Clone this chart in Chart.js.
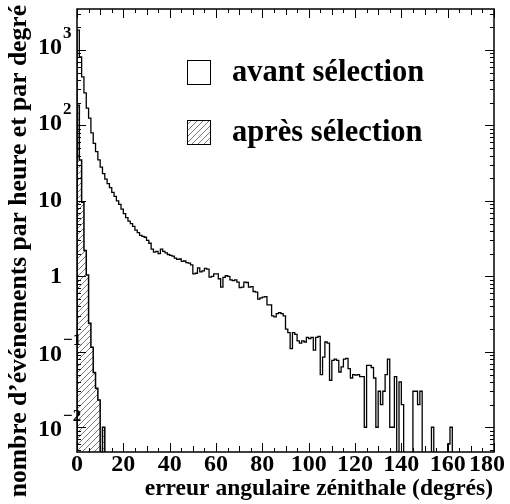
<!DOCTYPE html>
<html>
<head>
<meta charset="utf-8">
<script src="https://cdn.jsdelivr.net/npm/chart.js@4.4.1/dist/chart.umd.min.js"></script>
<style>
  html, body { margin: 0; padding: 0; background: #fff; }
  canvas { display: block; }
</style>
</head>
<body>
<canvas id="chart" width="510" height="504"></canvas>
<script>
// 1 degree bins, starting at 0
const avantValues = [
  1840, 810, 440, 270, 170, 125, 80, 58, 45, 35,
  28, 23, 19.5, 17, 15, 13, 11.5, 10, 9, 7.8,
  6.8, 6, 5.4, 5, 4.6, 4.1, 3.8, 3.5, 3.4, 3.3,
  3.0, 2.75, 2.3, 2.1, 2.15, 2.0, 2.3, 2.15, 2.05, 1.95,
  1.9, 1.85, 1.75, 1.68, 1.7, 1.58, 1.6, 1.52, 1.5, 1.42,
  1.08, 1.1, 1.3, 1.15, 1.18, 1.28, 1.25, 0.98, 1.0, 1.08,
  1.08, 0.93, 0.72, 0.97, 1.02, 1.0, 0.9, 0.88, 0.9, 0.84,
  0.71, 0.72, 0.84, 0.83, 0.72, 0.73, 0.63, 0.62, 0.5, 0.52,
  0.53, 0.54, 0.42, 0.42, 0.3, 0.29, 0.32, 0.33, 0.32, 0.3,
  0.2, 0.18, 0.11, 0.18, 0.17, 0.14, 0.13, 0.14, 0.135, 0.155,
  0.15, 0.155, 0.105, 0.155, 0.16, 0.05, 0.085, 0.135, 0.13, 0.042,
  0.077, 0.08, 0.077, 0.054, 0.063, 0.08, 0.082, 0.06, 0.045, 0.05,
  0.049, 0.05, 0.047, 0.047, 0.01, 0.066, 0.066, 0.062, 0.045, 0.01,
  0.03, 0.02, 0.03, 0.05, 0.08, 0.01, 0.01, 0.047, 0, 0.04,
  0.02, 0, 0, 0, 0, 0.03, 0.03, 0.02, 0.03, 0,
  0, 0, 0, 0.01, 0, 0, 0, 0, 0, 0,
  0.006, 0.01, 0
];
const apresValues = [186, 35, 9.6, 2.2, 1.04, 0.24, 0.115, 0.053, 0.033, 0.023, 0, 0.01, 0];

const xTickLabels = [0, 20, 40, 60, 80, 100, 120, 140, 160, 180];
const yTickLabels = [
  { v: 1000, base: '10', exp: '3' },
  { v: 100, base: '10', exp: '2' },
  { v: 10, base: '10', exp: '' },
  { v: 1, base: '1', exp: '' },
  { v: 0.1, base: '10', exp: '-1' },
  { v: 0.01, base: '10', exp: '-2' }
];
const legendLabels = ['avant sélection', 'après sélection'];
const xTitle = 'erreur angulaire zénithale (degrés)';
const yTitle = 'nombre d\u2019événements par heure et par degré';

const yMin = 0.0047, yMax = 3500;
const FLOOR = 1e-4; // empty bins go below the axis

function toSteps(values) {
  const pts = [{ x: 0, y: FLOOR }];
  values.forEach((v, i) => pts.push({ x: i, y: v > 0 ? v : FLOOR }));
  pts.push({ x: values.length, y: FLOOR });
  return pts;
}

function makeHatch() {
  const c = document.createElement('canvas');
  c.width = 6; c.height = 6;
  const g = c.getContext('2d');
  g.strokeStyle = '#555';
  g.lineWidth = 0.8;
  g.beginPath();
  g.moveTo(0, 6); g.lineTo(6, 0);
  g.moveTo(-1, 1); g.lineTo(1, -1);
  g.moveTo(5, 7); g.lineTo(7, 5);
  g.stroke();
  return g.createPattern(c, 'repeat');
}
const hatch = makeHatch();

const SERIF = '"Liberation Serif", "Times New Roman", serif';

const decorations = {
  id: 'decorations',
  afterDatasetsDraw(chart) {
    const { ctx, chartArea: a, scales: { x, y } } = chart;
    ctx.save();
    ctx.strokeStyle = '#000';
    ctx.fillStyle = '#000';

    // ticks (inside, all four sides)
    ctx.lineWidth = 1;
    ctx.beginPath();
    for (let d = 0; d <= 180; d += 5) {
      const px = Math.round(x.getPixelForValue(d)) + 0.5;
      const len = d % 20 === 0 ? 9 : (d % 10 === 0 ? 6 : 4);
      ctx.moveTo(px, a.bottom); ctx.lineTo(px, a.bottom - len);
      ctx.moveTo(px, a.top); ctx.lineTo(px, a.top + len);
    }
    for (let e = -3; e <= 3; e++) {
      for (let m = 1; m <= 9; m++) {
        const v = m * Math.pow(10, e);
        if (v < yMin || v > yMax) continue;
        const py = Math.round(y.getPixelForValue(v)) + 0.5;
        const len = m === 1 ? 9 : 4;
        ctx.moveTo(a.left, py); ctx.lineTo(a.left + len, py);
        ctx.moveTo(a.right, py); ctx.lineTo(a.right - len, py);
      }
    }
    ctx.stroke();

    // frame
    ctx.lineWidth = 1.5;
    ctx.strokeRect(a.left, a.top, a.right - a.left, a.bottom - a.top);

    // x tick labels (last one kept inside the canvas)
    ctx.font = 'bold 24px ' + SERIF;
    ctx.textAlign = 'center';
    ctx.textBaseline = 'middle';
    xTickLabels.forEach(t => {
      const s = String(t);
      const w = ctx.measureText(s).width;
      let cx = x.getPixelForValue(t);
      if (cx + w / 2 > chart.width - 5) cx = chart.width - 5 - w / 2;
      ctx.fillText(s, cx, 465);
    });

    // y tick labels with superscript exponents
    yTickLabels.forEach(t => {
      const py = y.getPixelForValue(t.v);
      const neg = t.exp.startsWith('-');
      const baseY = t.exp ? (neg ? py + 3 : py - 2) : py;
      ctx.font = 'bold 24px ' + SERIF;
      ctx.textAlign = 'right';
      ctx.fillText(t.base, 62, baseY);
      if (t.exp) {
        ctx.font = 'bold 17px ' + SERIF;
        ctx.textAlign = 'left';
        ctx.fillText(t.exp.replace('-', '\u2212'), 63, baseY - 14);
      }
    });

    // axis titles
    ctx.font = 'bold 23.5px ' + SERIF;
    ctx.textAlign = 'right';
    ctx.textBaseline = 'alphabetic';
    ctx.fillText(xTitle, 493, 495);

    ctx.save();
    ctx.translate(26, 5);
    ctx.rotate(-Math.PI / 2);
    ctx.font = 'bold 25.6px ' + SERIF;
    ctx.textAlign = 'right';
    ctx.fillText(yTitle, 0, 0);
    ctx.restore();

    // legend
    ctx.lineWidth = 1;
    ctx.strokeRect(187.5, 60.5, 23, 24);
    ctx.fillStyle = hatch;
    ctx.fillRect(187.5, 120.5, 23, 24);
    ctx.strokeRect(187.5, 120.5, 23, 24);
    ctx.fillStyle = '#000';
    ctx.font = 'bold 30.5px ' + SERIF;
    ctx.textAlign = 'left';
    ctx.textBaseline = 'middle';
    ctx.fillText(legendLabels[0], 232, 73);
    ctx.fillText(legendLabels[1], 232, 133);

    ctx.restore();
  }
};

new Chart(document.getElementById('chart'), {
  type: 'line',
  data: {
    datasets: [
      {
        label: legendLabels[0],
        data: toSteps(avantValues),
        stepped: true,
        borderColor: '#000',
        borderWidth: 1.3,
        fill: false,
        pointRadius: 0
      },
      {
        label: legendLabels[1],
        data: toSteps(apresValues),
        stepped: true,
        borderColor: '#000',
        borderWidth: 1.5,
        backgroundColor: hatch,
        fill: 'start',
        pointRadius: 0
      }
    ]
  },
  options: {
    responsive: false,
    animation: false,
    layout: { padding: { left: 77, top: 9, right: 16, bottom: 52 } },
    plugins: { legend: { display: false }, tooltip: { enabled: false } },
    scales: {
      x: { type: 'linear', min: 0, max: 180, display: false },
      y: { type: 'logarithmic', min: yMin, max: yMax, display: false }
    }
  },
  plugins: [decorations]
});
</script>
</body>
</html>
